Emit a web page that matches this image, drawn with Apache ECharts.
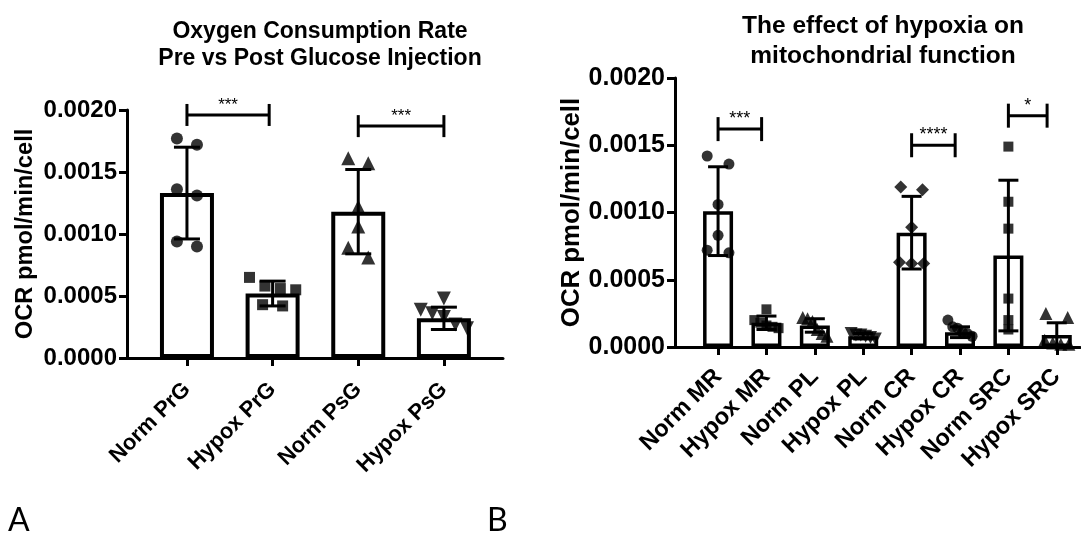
<!DOCTYPE html>
<html>
<head>
<meta charset="utf-8">
<script src="https://cdn.jsdelivr.net/npm/echarts@6/dist/echarts.min.js"></script>
<style>
    html, body { margin: 0; padding: 0; background: #fff; }
    #main { width: 1081px; height: 539px; }
</style>
</head>
<body>
<div id="main"></div>
<script>
// panel A data
var catsA = ['Norm PrG', 'Hypox PrG', 'Norm PsG', 'Hypox PsG'];
var meanA = [0.00133, 0.00052, 0.00118, 0.00032];
var sdA = [0.00037, 0.00010, 0.00034, 0.00009];
var ptsA = [
    [0.00177, 0.00172, 0.00136, 0.00131, 0.00094, 0.00090],
    [0.00065, 0.00058, 0.00056, 0.00055, 0.00043, 0.00042],
    [0.00161, 0.00157, 0.00122, 0.00106, 0.00089, 0.00081],
    [0.00048, 0.00039, 0.00036, 0.00033, 0.00027, 0.00024]
];
var sigFromA = [0, 2];
var sigToA = [0.96, 3];
var sigYA = [0.00196, 0.00187];
var sigTextA = ['***', '***'];

// panel B data
var catsB = ['Norm MR', 'Hypox MR', 'Norm PL', 'Hypox PL', 'Norm CR', 'Hypox CR', 'Norm SRC', 'Hypox SRC'];
var meanB = [0.00101, 0.00018, 0.00016, 0.00008, 0.00085, 0.00011, 0.00068, 0.00009];
var sdB = [0.00033, 0.00005, 0.00005, 0.00002, 0.00027, 0.00004, 0.00056, 0.00009];
var ptsB = [
    [0.00142, 0.00136, 0.00106, 0.00083, 0.00072, 0.00070],
    [0.00028, 0.00020, 0.00018, 0.00016, 0.00015, 0.00014],
    [0.00022, 0.00021, 0.00019, 0.00013, 0.00010, 0.00008],
    [0.00010, 0.00009, 0.00009, 0.00008, 0.00007, 0.00006],
    [0.00119, 0.00117, 0.00089, 0.00063, 0.00062, 0.00062],
    [0.00020, 0.00015, 0.00014, 0.00011, 0.00010, 0.00008],
    [0.00149, 0.00108, 0.00088, 0.00036, 0.00020, 0.00013],
    [0.00025, 0.00022, 0.00005, 0.00003, 0.00002, 0.00002]
];
var sigFromB = [0, 4, 6];
var sigToB = [0.9, 4.9, 6.8];
var sigYB = [0.00162, 0.00150, 0.00172];
var sigTextB = ['***', '****', '*'];

var symA = ['circle', 'rect', 'triangle', 'triangleDown'];
var symB = ['circle', 'rect', 'triangle', 'triangleDown', 'diamond', 'circle', 'rect', 'triangle'];

var FONT = 'Arial, "Liberation Sans", sans-serif';

// spread points that sit close together (beeswarm-ish)
function spread(groups, near, step, maxOff) {
    var out = [];
    groups.forEach(function (vals, ci) {
        var sorted = vals.slice().sort(function (a, b) { return b - a; });
        var i = 0;
        while (i < sorted.length) {
            var j = i + 1;
            while (j < sorted.length && sorted[j - 1] - sorted[j] < near) j++;
            var n = j - i;
            var w = Math.min((n - 1) / 2 * step, maxOff);
            for (var k = i; k < j; k++) {
                var off = n === 1 ? 0 : -w + (2 * w) * (k - i) / (n - 1);
                out.push({ value: [ci + off, sorted[k]], ci: ci });
            }
            i = j;
        }
    });
    return out;
}

function errorRender(cap) {
    return function (params, api) {
        var x = api.value(0), m = api.value(1), s = api.value(2);
        var top = api.coord([x, m + s]);
        var bot = api.coord([x, Math.max(m - s, 0)]);
        var st = { stroke: '#000', lineWidth: 3 };
        return {
            type: 'group',
            children: [
                { type: 'line', shape: { x1: top[0], y1: top[1], x2: bot[0], y2: bot[1] }, style: st },
                { type: 'line', shape: { x1: top[0] - cap, y1: top[1], x2: top[0] + cap, y2: top[1] }, style: st },
                { type: 'line', shape: { x1: bot[0] - cap, y1: bot[1], x2: bot[0] + cap, y2: bot[1] }, style: st }
            ]
        };
    };
}

function sigRender(tick, fs) {
    return function (params, api) {
        var a = api.coord([api.value(0), api.value(2)]);
        var b = api.coord([api.value(1), api.value(2)]);
        var st = { stroke: '#000', lineWidth: 3 };
        return {
            type: 'group',
            children: [
                { type: 'line', shape: { x1: a[0], y1: a[1], x2: b[0], y2: b[1] }, style: st },
                { type: 'line', shape: { x1: a[0], y1: a[1] - tick, x2: a[0], y2: a[1] + tick }, style: st },
                { type: 'line', shape: { x1: b[0], y1: b[1] - tick, x2: b[0], y2: b[1] + tick }, style: st },
                {
                    type: 'text',
                    style: {
                        text: api.value(3), x: (a[0] + b[0]) / 2, y: a[1] - 1,
                        align: 'center', verticalAlign: 'bottom',
                        font: fs + 'px ' + FONT, fill: '#000'
                    }
                }
            ]
        };
    };
}

function xAxisFor(gi, cats, min, max, fs, margin) {
    var idx = cats.map(function (c, i) { return i; });
    return {
        gridIndex: gi, type: 'value', min: min, max: max,
        axisLine: { onZero: false, lineStyle: { color: '#000', width: 3 } },
        axisTick: { customValues: idx, length: 8, lineStyle: { color: '#000', width: 3 } },
        axisLabel: {
            customValues: idx, rotate: 45, margin: margin,
            formatter: function (v) { return cats[Math.round(v)]; },
            color: '#000', fontSize: fs, fontWeight: 'bold', fontFamily: FONT
        },
        splitLine: { show: false }
    };
}

function yAxisFor(gi, fs, nfs, gap) {
    return {
        gridIndex: gi, type: 'value', min: 0, max: 0.002, interval: 0.0005,
        name: 'OCR pmol/min/cell', nameLocation: 'middle', nameGap: gap,
        nameTextStyle: { color: '#000', fontSize: nfs, fontWeight: 'bold', fontFamily: FONT },
        axisLine: { show: true, onZero: false, lineStyle: { color: '#000', width: 3 } },
        axisTick: { show: true, length: 8, lineStyle: { color: '#000', width: 3 } },
        axisLabel: {
            margin: 10, color: '#000', fontSize: fs, fontWeight: 'bold', fontFamily: FONT,
            formatter: function (v) { return v.toFixed(4); }
        },
        splitLine: { show: false }
    };
}

function panelSeries(gi, means, sds, pts, syms, from, to, ys, texts, o) {
    var list = [];
    list.push({
        type: 'bar', xAxisIndex: gi, yAxisIndex: gi, barWidth: o.barWidth, z: 2,
        itemStyle: { color: '#fff', borderColor: '#000', borderWidth: o.border },
        data: means.map(function (m, i) { return [i, m]; })
    });
    list.push({
        type: 'custom', xAxisIndex: gi, yAxisIndex: gi, z: 3,
        renderItem: errorRender(o.cap),
        data: means.map(function (m, i) { return [i, m, sds[i]]; })
    });
    var sp = spread(pts, o.near, o.step, o.maxOff);
    syms.forEach(function (s, ci) {
        list.push({
            type: 'scatter', xAxisIndex: gi, yAxisIndex: gi, z: 4,
            symbol: s === 'triangleDown' ? 'triangle' : s,
            symbolRotate: s === 'triangleDown' ? 180 : 0,
            symbolSize: s === 'circle' ? o.size : (s === 'rect' ? o.size - 1 : o.size + 2),
            itemStyle: { color: '#000' },
            data: sp.filter(function (d) { return d.ci === ci; }).map(function (d) { return d.value; })
        });
    });
    list.push({
        type: 'custom', xAxisIndex: gi, yAxisIndex: gi, z: 5,
        renderItem: sigRender(o.tick, o.sigFont),
        data: from.map(function (f, i) { return [f, to[i], ys[i], texts[i]]; })
    });
    return list;
}

var chart = echarts.init(document.getElementById('main'));
chart.setOption({
    backgroundColor: '#fff',
    animation: false,
    title: [
        {
            text: 'Oxygen Consumption Rate\nPre vs Post Glucose Injection',
            left: 315, top: 13, textAlign: 'center',
            textStyle: { fontSize: 23, fontWeight: 'bold', lineHeight: 27, color: '#000', fontFamily: FONT }
        },
        {
            text: 'The effect of hypoxia on\nmitochondrial function',
            left: 878, top: 6, textAlign: 'center',
            textStyle: { fontSize: 24.5, fontWeight: 'bold', lineHeight: 30, color: '#000', fontFamily: FONT }
        },
        {
            text: 'A', left: 3, top: 500,
            textStyle: { fontSize: 32, fontWeight: 'normal', color: '#000', fontFamily: 'Lato, "Open Sans", sans-serif' }
        },
        {
            text: 'B', left: 482, top: 500,
            textStyle: { fontSize: 32, fontWeight: 'normal', color: '#000', fontFamily: 'Lato, "Open Sans", sans-serif' }
        }
    ],
    grid: [
        { left: 127, top: 110, width: 376, height: 248 },
        { left: 675, top: 78, width: 405, height: 269 }
    ],
    xAxis: [
        xAxisFor(0, catsA, -0.7, 3.69, 22, 28),
        xAxisFor(1, catsB, -0.89, 7.48, 23.5, 26)
    ],
    yAxis: [
        yAxisFor(0, 24, 23.7, 90),
        yAxisFor(1, 25, 25.8, 90)
    ],
    series: panelSeries(0, meanA, sdA, ptsA, symA, sigFromA, sigToA, sigYA, sigTextA,
        { barWidth: 54, border: 4, cap: 13, size: 12, near: 0.00008, step: 0.234, maxOff: 0.27, tick: 11, sigFont: 17 })
        .concat(panelSeries(1, meanB, sdB, ptsB, symB, sigFromB, sigToB, sigYB, sigTextB,
        { barWidth: 30, border: 3.5, cap: 10, size: 11, near: 0.000065, step: 0.45, maxOff: 0.25, tick: 12, sigFont: 18 }))
});
</script>
</body>
</html>
